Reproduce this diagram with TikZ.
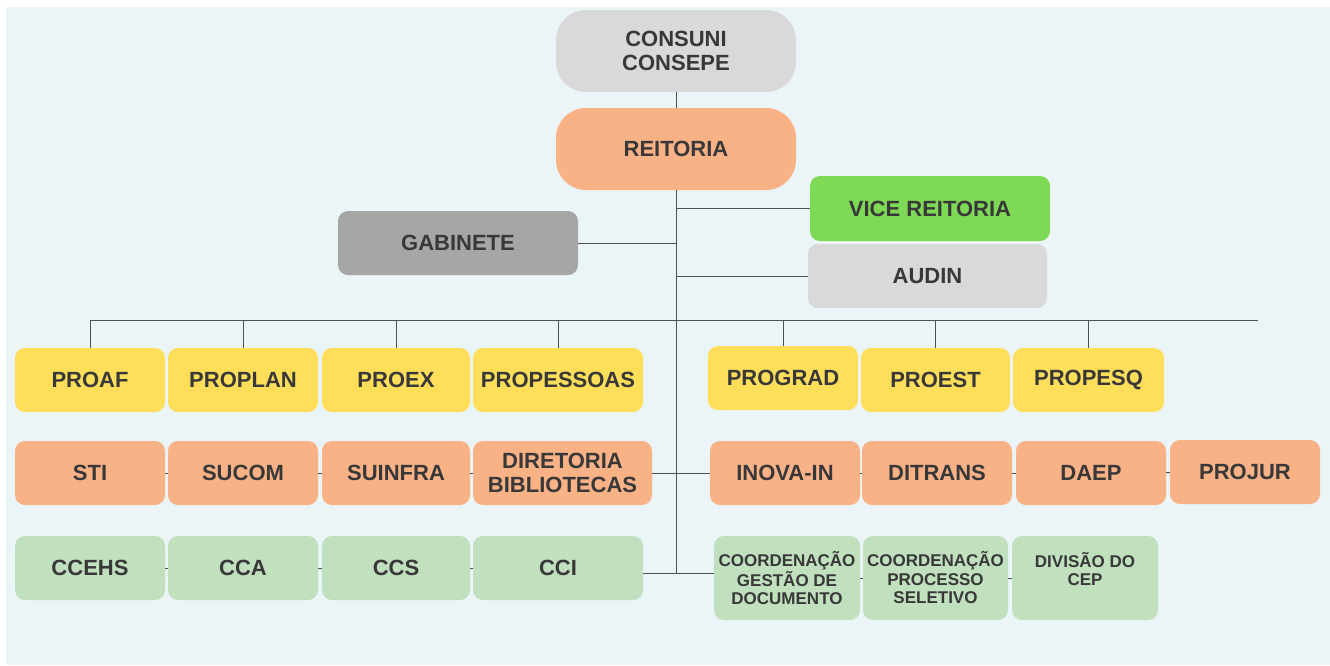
\documentclass[tikz,border=0pt]{standalone}
\usepackage{fontspec}
\setmainfont{Liberation Sans}
\usepackage{tikz}
\usetikzlibrary{calc,shapes}
\definecolor{bgblue}{HTML}{EBF4F6}
\definecolor{graylight}{HTML}{D9D9D9}
\definecolor{graydark}{HTML}{A6A6A6}
\definecolor{salmon}{HTML}{F9B186}
\definecolor{vicegreen}{HTML}{7ED957}
\definecolor{yellowpro}{HTML}{FFDE59}
\definecolor{palegreen}{HTML}{C0E0BE}
\definecolor{textgray}{HTML}{383838}
\definecolor{linegray}{HTML}{4F4F4F}
\tikzstyle{unitbox}=[rectangle,rounded corners=10pt,inner sep=0pt,text=textgray,
                     font=\fontsize{22}{24}\selectfont\bfseries,
                     minimum width=150pt,minimum height=64pt]
\tikzstyle{topbox}=[unitbox,rounded corners=30pt,minimum width=240pt,minimum height=82pt]
\tikzstyle{proreitoria}=[unitbox,fill=yellowpro]
\tikzstyle{superint}=[unitbox,fill=salmon]
\tikzstyle{centro}=[unitbox,fill=palegreen]
\tikzstyle{coordbox}=[centro,font=\fontsize{17}{18.5}\selectfont\bfseries,
                      minimum width=146pt,minimum height=84pt]
\tikzstyle{link}=[draw=linegray,line width=1pt]
\newcommand\boxlabel[3][170pt]{\parbox{#1}{\centering #2 \\ #3 }}
\newcommand\coordlabel[4][144pt]{\parbox{#1}{\centering #2 \\ #3 \\ #4 }}
\newcommand\rowpro{380}
\newcommand\rowsup{473}
\newcommand\rowcen{568}

\begin{document}
\begin{tikzpicture}[x=1pt,y=-1pt]
    \useasboundingbox (0,0) rectangle (1330,665);
    \fill [white] (0,0) rectangle (1330,665);
    \fill [bgblue] (6,7) rectangle (1330,665);

    % conselhos e reitoria
    \node [topbox,fill=graylight] (consuni) at (676,51) {
        \boxlabel{CONSUNI}{CONSEPE}
    };
    \node [topbox,fill=salmon] (reitoria) at (676,149) {REITORIA};
    \node [unitbox,fill=vicegreen,minimum width=240pt,minimum height=65pt] (vice reitoria) at (930,208.5) {VICE REITORIA};
    \node [unitbox,fill=graylight,minimum width=239pt] (audin) at (927.5,276) {AUDIN};
    \node [unitbox,fill=graydark,minimum width=240pt] (gabinete) at (458,243) {GABINETE};

    % pro-reitorias
    \node [proreitoria] (proaf) at ($(90,\rowpro)$) {PROAF};
    \node [proreitoria] (proplan) at ($(243,\rowpro)$) {PROPLAN};
    \node [proreitoria,minimum width=148pt] (proex) at ($(396,\rowpro)$) {PROEX};
    \node [proreitoria,minimum width=170pt] (propessoas) at ($(558,\rowpro)$) {PROPESSOAS};
    \node [proreitoria] (prograd) at ($(783,\rowpro-2)$) {PROGRAD};
    \node [proreitoria,minimum width=149pt] (proest) at ($(935.5,\rowpro)$) {PROEST};
    \node [proreitoria,minimum width=151pt] (propesq) at ($(1088.5,\rowpro)$) {PROPESQ};

    % superintendencias e diretorias
    \node [superint] (sti) at ($(90,\rowsup)$) {STI};
    \node [superint] (sucom) at ($(243,\rowsup)$) {SUCOM};
    \node [superint,minimum width=148pt] (suinfra) at ($(396,\rowsup)$) {SUINFRA};
    \node [superint,minimum width=179pt] (diretoria) at ($(562.5,\rowsup)$) {
        \boxlabel{DIRETORIA}{BIBLIOTECAS}
    };
    \node [superint] (inova) at ($(785,\rowsup)$) {INOVA-IN};
    \node [superint] (ditrans) at ($(937,\rowsup)$) {DITRANS};
    \node [superint] (daep) at ($(1091,\rowsup)$) {DAEP};
    \node [superint] (projur) at ($(1245,\rowsup-1)$) {PROJUR};

    % centros e coordenacoes
    \node [centro] (ccehs) at ($(90,\rowcen)$) {CCEHS};
    \node [centro] (cca) at ($(243,\rowcen)$) {CCA};
    \node [centro,minimum width=148pt] (ccs) at ($(396,\rowcen)$) {CCS};
    \node [centro,minimum width=170pt] (cci) at ($(558,\rowcen)$) {CCI};
    \node [coordbox] (coord gestao) at ($(787,\rowcen+10)$) {
        \coordlabel{COORDENAÇÃO}{GESTÃO DE}{DOCUMENTO}
    };
    \node [coordbox,minimum width=145pt] (coord processo) at ($(935.5,\rowcen+10)$) {
        \coordlabel{COORDENAÇÃO}{PROCESSO}{SELETIVO}
    };
    \node [coordbox] (divisao) at ($(1085,\rowcen+10)$) {
        \coordlabel{DIVISÃO DO}{CEP}{\mbox{}}
    };

    % ligacoes
    \coordinate (trunk end) at (676,573);
    \coordinate (bus end) at (1258,320);
    \draw [link] (consuni) -- (reitoria);
    \draw [link] (reitoria) -- (trunk end);
    \draw [link] (gabinete.east) -- (gabinete.east -| trunk end);
    \draw [link] (vice reitoria.west -| trunk end) -- (vice reitoria.west);
    \draw [link] (audin.west -| trunk end) -- (audin.west);
    \draw [link] (proaf.north |- bus end) -- (bus end);
    \foreach \unit in {proaf,proplan,proex,propessoas,prograd,proest,propesq}
        \draw [link] (\unit.north) -- (\unit.north |- bus end);
    \draw [link] (diretoria.east) -- (inova.west);
    \draw [link] (cci.east |- trunk end) -- (coord gestao.west |- trunk end);
    \foreach \left/\right in {sti/sucom,sucom/suinfra,suinfra/diretoria,
                              inova/ditrans,ditrans/daep,daep/projur,
                              ccehs/cca,cca/ccs,ccs/cci,
                              coord gestao/coord processo,coord processo/divisao}
        \draw [link] (\left) -- (\right);
\end{tikzpicture}
\end{document}
